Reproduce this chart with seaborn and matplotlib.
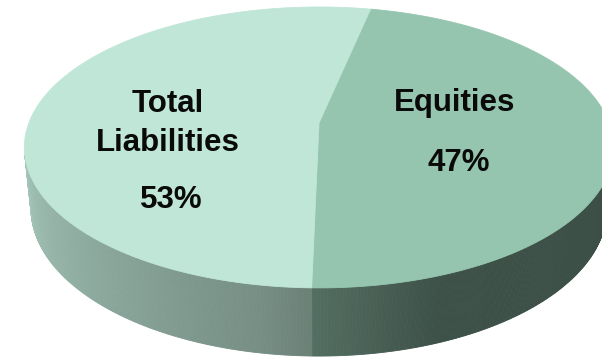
import numpy as np
import matplotlib
matplotlib.use("Agg")
import matplotlib.pyplot as plt
from matplotlib.colors import to_rgb
import seaborn as sns

# ---- data -------------------------------------------------------------
categories = ["Equities", "Total Liabilities"]
shares = [47, 53]                       # percent of total
name_lines = [["Equities"], ["Total", "Liabilities"]]
pct_labels = [f"{v}%" for v in shares]

# ---- style ------------------------------------------------------------
sns.set_theme(style="white")
plt.rcParams["font.family"] = ["Liberation Sans", "DejaVu Sans"]

top_colors = ["#95C5AF", "#BFE6D6"]
text_color = "#0A0A0A"

# ---- 3-D view of a pie disc (unit radius, flat top at z=0) ----------------
ELEV = np.radians(28.0)     # camera elevation
DIST = 5.074                # camera distance (in radii)
FOCAL = 1472.0              # focal length in pixels
THICK = 0.24                # disc thickness (in radii)
CX, CY = 319.0, 123.0       # where the disc centre lands on the canvas
START = 12.0                # first slice starts here, clockwise from the far edge


def project(alpha_deg, z):
    a = np.radians(alpha_deg)
    s, c = np.sin(a), np.cos(a)
    depth = DIST + c * np.cos(ELEV) - z * np.sin(ELEV)
    x = FOCAL * s / depth
    y = FOCAL * (c * np.sin(ELEV) + z * np.cos(ELEV)) / depth
    return CX + x, CY - y


def side_shade(alpha_deg):
    # light falls from the left: the left rim is bright, the right rim dark
    a = np.mod(alpha_deg, 360)
    return np.interp(a, [95, 160, 190, 262], [0.40, 0.41, 0.62, 0.87])


bounds = START + 360.0 * np.concatenate([[0], np.cumsum(shares)]) / 100.0


def slice_of(alpha_deg):
    rel = np.mod(alpha_deg - START, 360.0)
    edges = 360.0 * np.cumsum(shares) / 100.0
    return int(np.searchsorted(edges, rel, side="right").clip(0, len(shares) - 1))


fig = plt.figure(figsize=(6.02, 3.58), dpi=100)
ax = fig.add_axes([0, 0, 1, 1])
ax.set_xlim(0, 602)
ax.set_ylim(358, 0)
ax.axis("off")

# ---- side wall: only the part facing the camera ---------------------------
limit = np.degrees(np.arccos(-1.0 / (DIST * np.cos(ELEV))))
a_lo, a_hi = limit, 360.0 - limit
steps = np.linspace(a_lo, a_hi, 400)
extra = [np.mod(b, 360) for b in bounds if a_lo < np.mod(b, 360) < a_hi]
steps = np.unique(np.concatenate([steps, extra]))

for a0, a1 in zip(steps[:-1], steps[1:]):
    mid = 0.5 * (a0 + a1)
    i = slice_of(mid)
    col = np.clip(np.array(to_rgb(top_colors[i])) * side_shade(mid), 0, 1)
    xt0, yt0 = project(a0, 0.0)
    xt1, yt1 = project(a1, 0.0)
    xb1, yb1 = project(a1, -THICK)
    xb0, yb0 = project(a0, -THICK)
    ax.fill([xt0, xt1, xb1, xb0], [yt0, yt1, yb1, yb0],
            color=col, lw=0.6, ec=col, zorder=1)

# ---- top face wedges ----------------------------------------------------
for i in range(len(shares)):
    arc = np.linspace(bounds[i], bounds[i + 1], 240)
    xs, ys = project(arc, 0.0)
    ax.fill(np.r_[CX, xs], np.r_[CY, ys], color=top_colors[i],
            lw=0.6, ec=top_colors[i], zorder=2)

# ---- labels -------------------------------------------------------------
font = dict(fontsize=22.5, fontweight="bold", color=text_color,
            ha="center", va="baseline", zorder=3)
name_pos = {0: (455, [111]), 1: (168, [112, 151])}
pct_pos = {0: (459, 171), 1: (171, 208)}
for i in range(len(categories)):
    x, ys = name_pos[i]
    for line, y in zip(name_lines[i], ys):
        ax.text(x, y, line, **font)
    px, py = pct_pos[i]
    ax.text(px, py, pct_labels[i], **font)

fig.savefig("out.png", dpi=100)
